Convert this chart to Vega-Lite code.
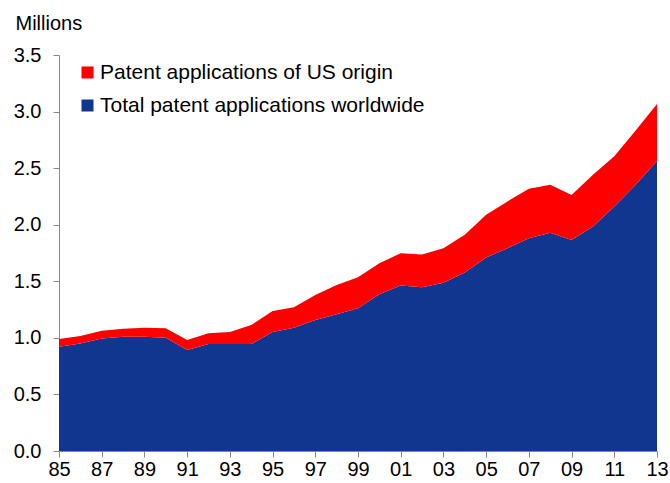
{
  "$schema": "https://vega.github.io/schema/vega-lite/v6.json",
  "autosize": {"type": "none"},
  "padding": {"left": 59, "top": 55, "right": 13, "bottom": 32},
  "width": 598,
  "height": 396,
  "background": "white",
  "config": {
    "view": {"stroke": null},
    "font": "Liberation Sans",
    "axis": {"labelFont": "Liberation Sans", "titleFont": "Liberation Sans"},
    "legend": {"labelFont": "Liberation Sans"}
  },
  "data": {
    "values": [
      {"year": 1985, "series": "Total patent applications worldwide", "rank": 1, "value": 0.921},
      {"year": 1986, "series": "Total patent applications worldwide", "rank": 1, "value": 0.951},
      {"year": 1987, "series": "Total patent applications worldwide", "rank": 1, "value": 0.995},
      {"year": 1988, "series": "Total patent applications worldwide", "rank": 1, "value": 1.010},
      {"year": 1989, "series": "Total patent applications worldwide", "rank": 1, "value": 1.010},
      {"year": 1990, "series": "Total patent applications worldwide", "rank": 1, "value": 1.000},
      {"year": 1991, "series": "Total patent applications worldwide", "rank": 1, "value": 0.892},
      {"year": 1992, "series": "Total patent applications worldwide", "rank": 1, "value": 0.945},
      {"year": 1993, "series": "Total patent applications worldwide", "rank": 1, "value": 0.945},
      {"year": 1994, "series": "Total patent applications worldwide", "rank": 1, "value": 0.945},
      {"year": 1995, "series": "Total patent applications worldwide", "rank": 1, "value": 1.051},
      {"year": 1996, "series": "Total patent applications worldwide", "rank": 1, "value": 1.090},
      {"year": 1997, "series": "Total patent applications worldwide", "rank": 1, "value": 1.158},
      {"year": 1998, "series": "Total patent applications worldwide", "rank": 1, "value": 1.208},
      {"year": 1999, "series": "Total patent applications worldwide", "rank": 1, "value": 1.261},
      {"year": 2000, "series": "Total patent applications worldwide", "rank": 1, "value": 1.385},
      {"year": 2001, "series": "Total patent applications worldwide", "rank": 1, "value": 1.462},
      {"year": 2002, "series": "Total patent applications worldwide", "rank": 1, "value": 1.447},
      {"year": 2003, "series": "Total patent applications worldwide", "rank": 1, "value": 1.488},
      {"year": 2004, "series": "Total patent applications worldwide", "rank": 1, "value": 1.577},
      {"year": 2005, "series": "Total patent applications worldwide", "rank": 1, "value": 1.710},
      {"year": 2006, "series": "Total patent applications worldwide", "rank": 1, "value": 1.793},
      {"year": 2007, "series": "Total patent applications worldwide", "rank": 1, "value": 1.881},
      {"year": 2008, "series": "Total patent applications worldwide", "rank": 1, "value": 1.928},
      {"year": 2009, "series": "Total patent applications worldwide", "rank": 1, "value": 1.865},
      {"year": 2010, "series": "Total patent applications worldwide", "rank": 1, "value": 1.985},
      {"year": 2011, "series": "Total patent applications worldwide", "rank": 1, "value": 2.162},
      {"year": 2012, "series": "Total patent applications worldwide", "rank": 1, "value": 2.354},
      {"year": 2013, "series": "Total patent applications worldwide", "rank": 1, "value": 2.563},
      {"year": 1985, "series": "Patent applications of US origin", "rank": 2, "value": 0.068},
      {"year": 1986, "series": "Patent applications of US origin", "rank": 2, "value": 0.065},
      {"year": 1987, "series": "Patent applications of US origin", "rank": 2, "value": 0.068},
      {"year": 1988, "series": "Patent applications of US origin", "rank": 2, "value": 0.071},
      {"year": 1989, "series": "Patent applications of US origin", "rank": 2, "value": 0.080},
      {"year": 1990, "series": "Patent applications of US origin", "rank": 2, "value": 0.084},
      {"year": 1991, "series": "Patent applications of US origin", "rank": 2, "value": 0.088},
      {"year": 1992, "series": "Patent applications of US origin", "rank": 2, "value": 0.095},
      {"year": 1993, "series": "Patent applications of US origin", "rank": 2, "value": 0.106},
      {"year": 1994, "series": "Patent applications of US origin", "rank": 2, "value": 0.168},
      {"year": 1995, "series": "Patent applications of US origin", "rank": 2, "value": 0.186},
      {"year": 1996, "series": "Patent applications of US origin", "rank": 2, "value": 0.180},
      {"year": 1997, "series": "Patent applications of US origin", "rank": 2, "value": 0.221},
      {"year": 1998, "series": "Patent applications of US origin", "rank": 2, "value": 0.260},
      {"year": 1999, "series": "Patent applications of US origin", "rank": 2, "value": 0.275},
      {"year": 2000, "series": "Patent applications of US origin", "rank": 2, "value": 0.275},
      {"year": 2001, "series": "Patent applications of US origin", "rank": 2, "value": 0.286},
      {"year": 2002, "series": "Patent applications of US origin", "rank": 2, "value": 0.290},
      {"year": 2003, "series": "Patent applications of US origin", "rank": 2, "value": 0.305},
      {"year": 2004, "series": "Patent applications of US origin", "rank": 2, "value": 0.334},
      {"year": 2005, "series": "Patent applications of US origin", "rank": 2, "value": 0.378},
      {"year": 2006, "series": "Patent applications of US origin", "rank": 2, "value": 0.413},
      {"year": 2007, "series": "Patent applications of US origin", "rank": 2, "value": 0.437},
      {"year": 2008, "series": "Patent applications of US origin", "rank": 2, "value": 0.425},
      {"year": 2009, "series": "Patent applications of US origin", "rank": 2, "value": 0.398},
      {"year": 2010, "series": "Patent applications of US origin", "rank": 2, "value": 0.457},
      {"year": 2011, "series": "Patent applications of US origin", "rank": 2, "value": 0.443},
      {"year": 2012, "series": "Patent applications of US origin", "rank": 2, "value": 0.478},
      {"year": 2013, "series": "Patent applications of US origin", "rank": 2, "value": 0.504}
    ]
  },
  "mark": {"type": "area", "interpolate": "linear", "opacity": 1},
  "encoding": {
    "x": {
      "field": "year",
      "type": "quantitative",
      "scale": {"domain": [1985, 2013], "nice": false, "zero": false},
      "axis": {
        "values": [1985, 1987, 1989, 1991, 1993, 1995, 1997, 1999, 2001, 2003, 2005, 2007, 2009, 2011, 2013],
        "labelExpr": "slice(toString(datum.value), 2)",
        "title": null,
        "grid": false,
        "domainColor": "#888888",
        "tickColor": "#888888",
        "tickSize": 6,
        "labelFontSize": 20,
        "labelColor": "#000000",
        "labelPadding": 2,
        "labelFlush": false
      }
    },
    "y": {
      "field": "value",
      "type": "quantitative",
      "stack": "zero",
      "scale": {"domain": [0, 3.5], "nice": false},
      "axis": {
        "values": [0, 0.5, 1, 1.5, 2, 2.5, 3, 3.5],
        "format": ".1f",
        "title": "Millions",
        "titleAngle": 0,
        "titleAlign": "left",
        "titleBaseline": "middle",
        "titleX": -44,
        "titleY": -32,
        "titleFontSize": 20,
        "titleFontWeight": "normal",
        "titleColor": "#000000",
        "grid": false,
        "domainColor": "#888888",
        "tickColor": "#888888",
        "tickSize": 6,
        "labelFontSize": 20,
        "labelColor": "#000000",
        "labelPadding": 12
      }
    },
    "color": {
      "field": "series",
      "type": "nominal",
      "scale": {
        "domain": ["Patent applications of US origin", "Total patent applications worldwide"],
        "range": ["#FF0000", "#10368F"]
      },
      "legend": {
        "title": null,
        "orient": "none",
        "legendX": 18,
        "legendY": 7,
        "symbolType": "square",
        "symbolSize": 144,
        "symbolStrokeWidth": 0,
        "labelFontSize": 21,
        "labelLimit": 0,
        "labelColor": "#000000",
        "rowPadding": 11,
        "labelOffset": 2
      }
    },
    "order": {"field": "rank", "type": "quantitative"}
  }
}
